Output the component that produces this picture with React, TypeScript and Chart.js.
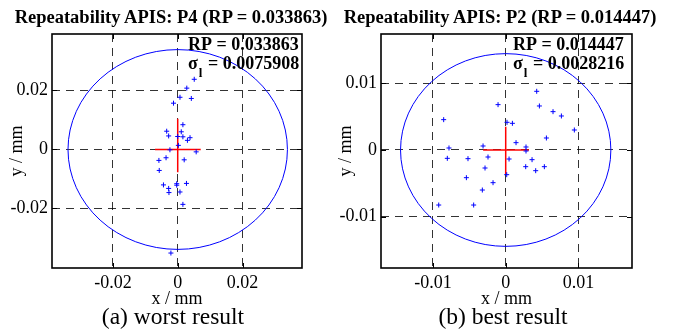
import React, { useEffect, useRef } from 'react';
import { Chart, registerables } from 'chart.js';

Chart.register(...registerables);

// ---------- Panel (a): P4, worst result ----------
const P4_X = [0.0051, 0.0028, 0.0007, 0.0042, -0.0013, 0.0016, -0.0034, 0.0011, -0.0028, 0.0, 0.0016, 0.0038, 0.003, 0.0002, -0.0024, 0.0057, -0.0036, 0.002, -0.0058, -0.0057, -0.0044, -0.0003, -0.0003, 0.0027, -0.0028, -0.0027, 0.0007, 0.0016, -0.0021];
const P4_Y = [0.0238, 0.0208, 0.0177, 0.0173, 0.0157, 0.0084, 0.0062, 0.006, 0.0046, 0.0044, 0.0043, 0.004, 0.0031, 0.0014, -0.0001, -0.0008, -0.0028, -0.0035, -0.0037, -0.0071, -0.012, -0.0116, -0.0121, -0.0115, -0.0132, -0.0146, -0.0144, -0.0186, -0.0351];
const P4_CROSS_H = [-0.007, 0.0071];
const P4_CROSS_V = [0.0104, -0.0077];
const P4_RP = '0.033863';
const P4_SIGMA = '0.0075908';
const P4_TICKS = [-0.02, 0, 0.02];
const P4_TICK_LABELS = ['-0.02', '0', '0.02'];
const P4_X_LIMITS = [-0.0388, 0.03836];
const P4_Y_LIMITS = [-0.04017, 0.03915];

// ---------- Panel (b): P2, best result ----------
const P2_X = [0.00426, -0.00105, 0.00463, 0.0065, 0.00765, -0.00852, 0.00018, 0.00092, 0.00943, 0.00559, 0.00142, -0.00311, 0.00279, -0.00779, 0.00279, -0.00243, -0.00802, -0.00518, 0.00046, 0.00362, -0.00284, 0.00275, 0.00531, 0.00412, 0.00014, -0.0054, -0.00174, -0.00321, -0.0092, -0.0044];
const P2_Y = [0.0088, 0.0068, 0.0066, 0.00575, 0.0051, 0.00455, 0.00415, 0.004, 0.003, 0.0018, 0.0011, 0.0006, 0.00045, 0.0003, -0.00015, -0.00105, -0.00125, -0.0013, -0.00135, -0.00145, -0.0027, -0.0025, -0.0025, -0.0031, -0.0037, -0.00415, -0.0049, -0.006, -0.00825, -0.00825];
const P2_CROSS_H = [-0.0031, 0.0032];
const P2_CROSS_V = [0.0035, -0.0036];
const P2_RP = '0.014447';
const P2_SIGMA = '0.0028216';
const P2_TICKS = [-0.01, 0, 0.01];
const P2_TICK_LABELS = ['-0.01', '0', '0.01'];
const P2_X_LIMITS = [-0.01713, 0.01735];
const P2_Y_LIMITS = [-0.01769, 0.01739];

const SERIF = '"Liberation Serif", "Times New Roman", serif';

const decoPlugin = {
  id: 'deco',
  beforeDatasetsDraw(chart: any, _a: any, opts: any) {
    const { ctx } = chart;
    const xs = chart.scales.x;
    const ys = chart.scales.y;
    const cx = xs.getPixelForValue(0);
    const cy = ys.getPixelForValue(0);
    const rx = Math.abs(xs.getPixelForValue(opts.rp) - cx);
    const ry = Math.abs(ys.getPixelForValue(opts.rp) - cy);
    ctx.save();
    ctx.strokeStyle = '#0000ff';
    ctx.lineWidth = 1;
    ctx.beginPath();
    ctx.ellipse(cx, cy, rx, ry, 0, 0, Math.PI * 2);
    ctx.stroke();
    ctx.restore();
  },
  afterDatasetsDraw(chart: any, _a: any, opts: any) {
    const { ctx, chartArea: a } = chart;
    const xs = chart.scales.x;
    const ys = chart.scales.y;
    ctx.save();
    // inner tick marks
    ctx.strokeStyle = '#000';
    ctx.lineWidth = 1;
    ctx.beginPath();
    xs.ticks.forEach((t: any) => {
      const p = Math.round(xs.getPixelForValue(t.value)) + 0.5;
      ctx.moveTo(p, a.bottom); ctx.lineTo(p, a.bottom - 5);
      ctx.moveTo(p, a.top); ctx.lineTo(p, a.top + 5);
    });
    ys.ticks.forEach((t: any) => {
      const p = Math.round(ys.getPixelForValue(t.value)) + 0.5;
      ctx.moveTo(a.left, p); ctx.lineTo(a.left + 5, p);
      ctx.moveTo(a.right, p); ctx.lineTo(a.right - 5, p);
    });
    ctx.stroke();
    // frame
    ctx.lineWidth = 1.6;
    ctx.strokeRect(a.left, a.top, a.right - a.left, a.bottom - a.top);
    // annotation
    const x0 = a.right - opts.textOffset;
    ctx.fillStyle = '#000';
    ctx.textAlign = 'left';
    ctx.textBaseline = 'alphabetic';
    ctx.font = 'bold 18px ' + SERIF;
    ctx.fillText('RP = ' + opts.rp, x0, a.top + 16);
    const sig = '\u03c3';
    ctx.fillText(sig, x0, a.top + 35);
    const sw = ctx.measureText(sig).width;
    ctx.font = 'bold 13px ' + SERIF;
    ctx.fillText('l', x0 + sw + 1, a.top + 43);
    const lw = ctx.measureText('l').width;
    ctx.font = 'bold 18px ' + SERIF;
    ctx.fillText(' = ' + opts.sigma, x0 + sw + lw + 2, a.top + 35);
    ctx.restore();
  },
};

type PanelProps = {
  left: number;
  width: number;
  areaRight: number;
  xs: number[];
  ys: number[];
  crossH: number[];
  crossV: number[];
  ticks: number[];
  tickLabels: string[];
  xLim: number[];
  yLim: number[];
  rp: string;
  sigma: string;
  textOffset: number;
};

function Panel(p: PanelProps) {
  const ref = useRef<HTMLCanvasElement>(null);
  useEffect(() => {
    const tickFont = { family: SERIF, size: 18 };
    const grid = { color: 'rgba(0,0,0,0.8)', lineWidth: 1, drawTicks: false };
    const border = { display: false, dash: [8, 6] };
    const chart = new Chart(ref.current as HTMLCanvasElement, {
      type: 'scatter',
      data: {
        datasets: [
          {
            data: p.xs.map((x, i) => ({ x, y: p.ys[i] })),
            pointStyle: 'cross',
            pointRadius: 2.5,
            borderColor: '#0000ff',
            backgroundColor: '#0000ff',
            borderWidth: 1,
          },
          {
            data: [{ x: p.crossH[0], y: 0 }, { x: p.crossH[1], y: 0 }],
            showLine: true,
            borderColor: '#ff0000',
            borderWidth: 1.5,
            pointRadius: 0,
          },
          {
            data: [{ x: 0, y: p.crossV[0] }, { x: 0, y: p.crossV[1] }],
            showLine: true,
            borderColor: '#ff0000',
            borderWidth: 1.5,
            pointRadius: 0,
          },
        ],
      } as any,
      options: {
        responsive: false,
        animation: false,
        events: [],
        layout: { padding: { left: 0, top: 34, right: p.width - p.areaRight, bottom: 26 } },
        plugins: {
          legend: { display: false },
          tooltip: { enabled: false },
          deco: { rp: p.rp, sigma: p.sigma, textOffset: p.textOffset },
        } as any,
        scales: {
          x: {
            type: 'linear',
            min: p.xLim[0],
            max: p.xLim[1],
            afterBuildTicks: (s: any) => { s.ticks = p.ticks.map((v) => ({ value: v })); },
            afterFit: (s: any) => { s.height = 42; },
            ticks: {
              callback: (_v: any, i: number) => p.tickLabels[i],
              font: tickFont,
              color: '#000',
              padding: 4,
              maxRotation: 0,
              autoSkip: false,
            },
            grid,
            border,
            title: { display: true, text: 'x / mm', font: tickFont, color: '#000', padding: { top: 0, bottom: 0 } },
          },
          y: {
            type: 'linear',
            min: p.yLim[0],
            max: p.yLim[1],
            afterBuildTicks: (s: any) => { s.ticks = p.ticks.map((v) => ({ value: v })); },
            afterFit: (s: any) => { s.width = 52; },
            ticks: {
              callback: (_v: any, i: number) => p.tickLabels[i],
              font: tickFont,
              color: '#000',
              padding: 4,
              autoSkip: false,
            },
            grid,
            border,
            title: { display: true, text: 'y / mm', font: tickFont, color: '#000', padding: { top: 6, bottom: 0 } },
          },
        },
      } as any,
      plugins: [decoPlugin as any],
    });
    return () => chart.destroy();
  }, []);
  return (
    <canvas
      ref={ref}
      width={p.width}
      height={336}
      style={{ position: 'absolute', left: p.left, top: 0, width: p.width, height: 336 }}
    />
  );
}

const textStyle = (left: number, width: number, top: number, size: number, bold: boolean, lh: number): React.CSSProperties => ({
  position: 'absolute',
  left,
  width,
  top,
  textAlign: 'center',
  fontFamily: SERIF,
  fontSize: size,
  fontWeight: bold ? 'bold' : 'normal',
  lineHeight: lh + 'px',
  whiteSpace: 'nowrap',
  color: '#000',
});

export default function App() {
  return (
    <div style={{ position: 'absolute', left: 0, top: 0, width: 674, height: 336, background: '#fff', overflow: 'hidden' }}>
      <Panel left={0} width={337} areaRight={302} xs={P4_X} ys={P4_Y} crossH={P4_CROSS_H} crossV={P4_CROSS_V}
        ticks={P4_TICKS} tickLabels={P4_TICK_LABELS} xLim={P4_X_LIMITS} yLim={P4_Y_LIMITS}
        rp={P4_RP} sigma={P4_SIGMA} textOffset={114} />
      <Panel left={329} width={337} areaRight={303} xs={P2_X} ys={P2_Y} crossH={P2_CROSS_H} crossV={P2_CROSS_V}
        ticks={P2_TICKS} tickLabels={P2_TICK_LABELS} xLim={P2_X_LIMITS} yLim={P2_Y_LIMITS}
        rp={P2_RP} sigma={P2_SIGMA} textOffset={119} />
      <div style={textStyle(0, 342, 7, 18.5, true, 20)}>{'Repeatability APIS: P4 (RP = ' + P4_RP + ')'}</div>
      <div style={textStyle(330, 340, 7, 18.5, true, 20)}>{'Repeatability APIS: P2 (RP = ' + P2_RP + ')'}</div>
      <div style={textStyle(0, 346, 303, 23.5, false, 26)}>(a) worst result</div>
      <div style={textStyle(330, 346, 303, 23.5, false, 26)}>(b) best result</div>
    </div>
  );
}
